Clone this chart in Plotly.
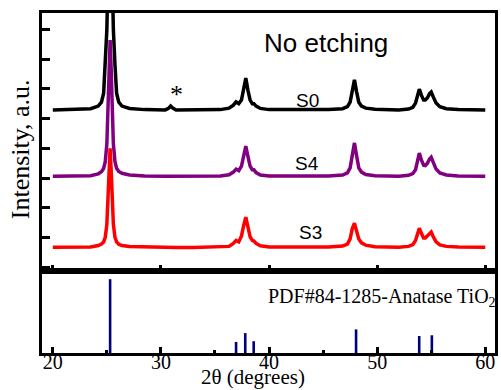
import plotly.graph_objects as go

# ---- data ----
two_theta = [20.0, 22.0, 23.5, 24.2, 24.5, 24.7, 24.85, 25.0, 25.1, 25.2, 25.3, 25.4, 25.5, 25.6, 25.75,
             25.9, 26.1, 26.4, 27.1, 28.5, 30.4, 30.7, 30.9, 31.1, 31.4, 33.0, 35.5, 36.3, 36.7, 36.95,
             37.2, 37.45, 37.65, 37.85, 38.05, 38.25, 38.45, 38.6, 38.8, 39.2, 40.0, 42.0, 45.5, 46.8,
             47.25, 47.5, 47.7, 47.9, 48.1, 48.3, 48.55, 48.95, 49.8, 52.0, 52.9, 53.3, 53.55, 53.75,
             53.9, 54.1, 54.3, 54.45, 54.65, 54.85, 55.0, 55.2, 55.45, 55.8, 56.4, 57.5, 60.0]

s0 = [5.29, 5.30, 5.33, 5.42, 5.55, 5.85, 6.80, 8.00, 9.80, 12.0, 15.0, 12.0, 9.80, 8.00, 6.80,
      5.85, 5.55, 5.42, 5.34, 5.30, 5.29, 5.34, 5.42, 5.35, 5.29, 5.29, 5.30, 5.35, 5.45, 5.56,
      5.50, 5.62, 5.95, 6.36, 5.95, 5.62, 5.50, 5.50, 5.42, 5.34, 5.30, 5.29, 5.30, 5.33,
      5.40, 5.55, 5.90, 6.30, 5.90, 5.55, 5.42, 5.35, 5.31, 5.29, 5.32, 5.38, 5.52, 5.80,
      5.99, 5.78, 5.62, 5.62, 5.70, 5.84, 5.89, 5.72, 5.52, 5.40, 5.33, 5.30, 5.29]

s4 = [3.06, 3.06, 3.08, 3.14, 3.21, 3.32, 3.55, 4.15, 5.20, 6.65, 7.64, 6.65, 5.20, 4.15, 3.55,
      3.33, 3.22, 3.16, 3.10, 3.07, 3.06, 3.06, 3.06, 3.06, 3.06, 3.06, 3.07, 3.11, 3.20, 3.30,
      3.25, 3.40, 3.72, 4.07, 3.72, 3.40, 3.28, 3.28, 3.18, 3.10, 3.07, 3.06, 3.07, 3.10,
      3.17, 3.34, 3.75, 4.18, 3.75, 3.34, 3.20, 3.12, 3.08, 3.06, 3.09, 3.15, 3.28, 3.60,
      3.84, 3.60, 3.43, 3.42, 3.50, 3.64, 3.70, 3.52, 3.30, 3.17, 3.10, 3.07, 3.06]

s3 = [0.67, 0.67, 0.68, 0.73, 0.78, 0.85, 1.00, 1.45, 2.20, 3.25, 4.00, 3.25, 2.20, 1.45, 1.00,
      0.85, 0.77, 0.73, 0.70, 0.68, 0.66, 0.66, 0.66, 0.66, 0.66, 0.66, 0.67, 0.70, 0.80, 0.90,
      0.85, 1.05, 1.40, 1.68, 1.35, 1.02, 0.90, 0.88, 0.80, 0.72, 0.68, 0.67, 0.68, 0.71,
      0.78, 0.95, 1.30, 1.48, 1.25, 0.95, 0.82, 0.74, 0.69, 0.67, 0.70, 0.76, 0.90, 1.15,
      1.31, 1.13, 0.98, 0.98, 1.06, 1.15, 1.18, 1.02, 0.85, 0.75, 0.70, 0.68, 0.67]

pdf_pos = [25.3, 36.95, 37.8, 38.58, 48.05, 53.89, 55.06]
pdf_int = [100, 15, 27, 16, 32, 23, 24]

series_names = ["S0", "S4", "S3"]
series_colors = ["#000000", "#800080", "#ff0000"]

# ---- figure ----
fig = go.Figure()
for name, ys, col in zip(series_names, [s0, s4, s3], series_colors):
    fig.add_trace(go.Scatter(x=two_theta, y=ys, mode="lines", name=name,
                             line=dict(color=col, width=3.5), xaxis="x2", yaxis="y2",
                             showlegend=False))

stick_x, stick_y = [], []
for p, i in zip(pdf_pos, pdf_int):
    stick_x += [p, p, None]
    stick_y += [0, i, None]
fig.add_trace(go.Scatter(x=stick_x, y=stick_y, mode="lines",
                         line=dict(color="#000080", width=2.6), showlegend=False,
                         xaxis="x", yaxis="y"))

serif = "Liberation Serif, Times New Roman, serif"
sans = "Liberation Sans, Arial, sans-serif"

axis_common = dict(showline=True, linewidth=3, linecolor="black", mirror=True,
                   zeroline=False, showgrid=False, range=[19.0, 60.9])
minor = dict(dtick=5, tick0=0, ticks="inside", ticklen=3, tickwidth=3, tickcolor="black")

fig.update_layout(
    width=501, height=390,
    margin=dict(l=42, r=3, t=13, b=37),
    paper_bgcolor="white", plot_bgcolor="white",
    xaxis=dict(**axis_common, anchor="y", ticks="inside", ticklen=6, tickwidth=3,
               tickcolor="black", tickmode="linear", tick0=0, dtick=10, minor=minor,
               ticklabelstandoff=-11,
               tickfont=dict(family=serif, size=20, color="black")),
    yaxis=dict(domain=[0, 0.241], range=[0, 111], showline=True, linewidth=3,
               linecolor="black", mirror=True, zeroline=False, showgrid=False,
               ticks="", showticklabels=False),
    xaxis2=dict(**axis_common, anchor="y2", matches="x", ticks="inside", ticklen=6,
                tickwidth=3, tickcolor="black", tickmode="linear", tick0=0, dtick=10,
                minor=minor, showticklabels=False),
    yaxis2=dict(domain=[0.241, 1], range=[-0.13, 8.55], showline=True, linewidth=3,
                linecolor="black", mirror=True, zeroline=False, showgrid=False,
                ticks="inside", ticklen=8, tickwidth=3, tickcolor="black",
                tickmode="linear", tick0=0, dtick=1, showticklabels=False, anchor="x2"),
)

ann = [
    dict(text="No etching", x=45.3, y=7.54, xref="x2", yref="y2",
         font=dict(family=sans, size=26, color="black")),
    dict(text="S0", x=43.6, y=5.62, xref="x2", yref="y2",
         font=dict(family=sans, size=19, color="black")),
    dict(text="S4", x=43.5, y=3.50, xref="x2", yref="y2",
         font=dict(family=sans, size=19, color="black")),
    dict(text="S3", x=43.8, y=1.18, xref="x2", yref="y2",
         font=dict(family=sans, size=19, color="black")),
    dict(text="*", x=31.4, y=5.82, xref="x2", yref="y2",
         font=dict(family=serif, size=26, color="black")),
    dict(text="PDF#84-1285-Anatase TiO<sub>2</sub>", x=39.7, y=75, xref="x", yref="y",
         xanchor="left", font=dict(family=serif, size=20, color="black")),
    dict(text="2θ (degrees)", x=0.465, y=-0.072, xref="paper", yref="paper",
         font=dict(family=serif, size=21, color="black")),
    dict(text="Intensity, a.u.", x=-0.048, y=0.60, xref="paper", yref="paper",
         textangle=-90, font=dict(family=serif, size=26, color="black")),
]
for a in ann:
    a.setdefault("xanchor", "center")
    a.update(yanchor="middle", showarrow=False)
fig.update_layout(annotations=ann)

fig.write_html("out.html")
